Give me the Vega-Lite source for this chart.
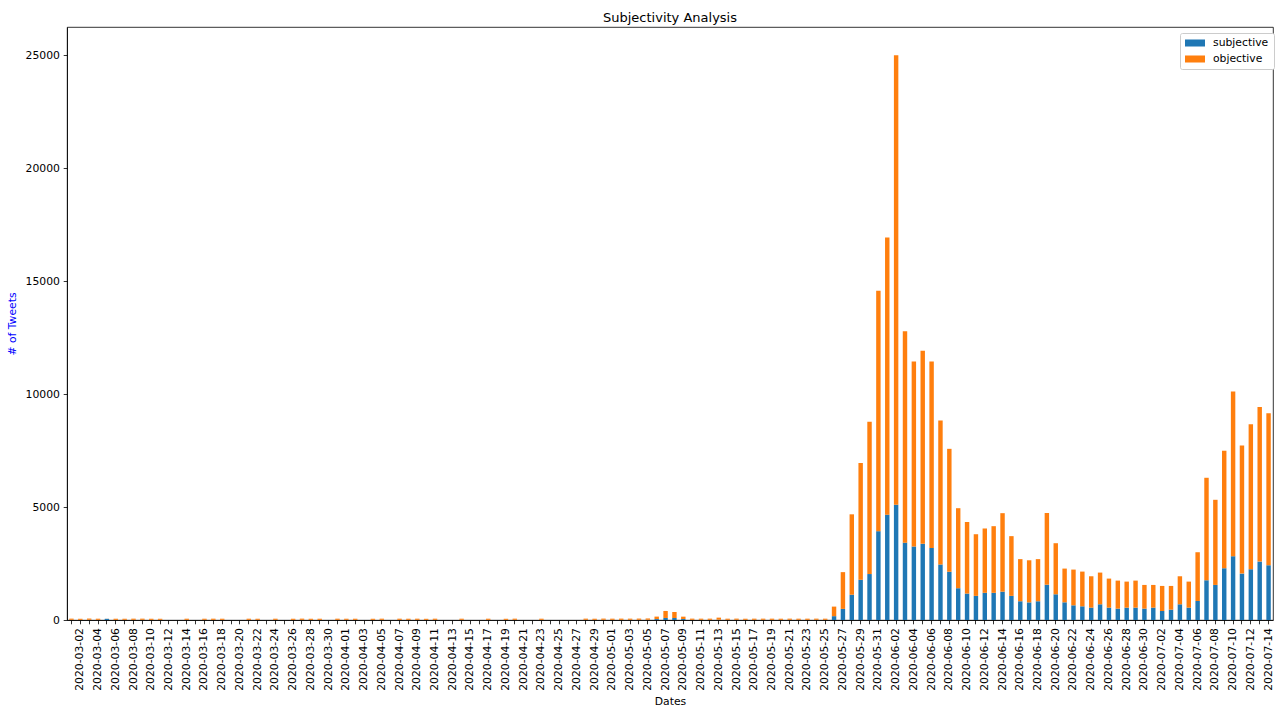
{
  "$schema": "https://vega.github.io/schema/vega-lite/v6.json",
  "width": 1206,
  "height": 593,
  "autosize": {"type": "none"},
  "padding": {"left": 67, "top": 27, "right": 7, "bottom": 87},
  "background": "white",
  "title": {"text": "Subjectivity Analysis", "fontSize": 13, "fontWeight": "normal", "font": "DejaVu Sans", "color": "black", "offset": 2},
  "data": {"values": [
    {"date": "2020-03-01", "subjective": 8, "objective": 52},
    {"date": "2020-03-02", "subjective": 6, "objective": 48},
    {"date": "2020-03-03", "subjective": 9, "objective": 55},
    {"date": "2020-03-04", "subjective": 7, "objective": 50},
    {"date": "2020-03-05", "subjective": 52, "objective": 4},
    {"date": "2020-03-06", "subjective": 6, "objective": 50},
    {"date": "2020-03-07", "subjective": 8, "objective": 47},
    {"date": "2020-03-08", "subjective": 7, "objective": 52},
    {"date": "2020-03-09", "subjective": 9, "objective": 50},
    {"date": "2020-03-10", "subjective": 6, "objective": 49},
    {"date": "2020-03-11", "subjective": 8, "objective": 46},
    {"date": "2020-03-12", "subjective": 0, "objective": 0},
    {"date": "2020-03-13", "subjective": 0, "objective": 0},
    {"date": "2020-03-14", "subjective": 7, "objective": 50},
    {"date": "2020-03-15", "subjective": 0, "objective": 0},
    {"date": "2020-03-16", "subjective": 8, "objective": 48},
    {"date": "2020-03-17", "subjective": 6, "objective": 52},
    {"date": "2020-03-18", "subjective": 7, "objective": 49},
    {"date": "2020-03-19", "subjective": 0, "objective": 0},
    {"date": "2020-03-20", "subjective": 0, "objective": 0},
    {"date": "2020-03-21", "subjective": 6, "objective": 51},
    {"date": "2020-03-22", "subjective": 8, "objective": 47},
    {"date": "2020-03-23", "subjective": 0, "objective": 0},
    {"date": "2020-03-24", "subjective": 7, "objective": 50},
    {"date": "2020-03-25", "subjective": 0, "objective": 0},
    {"date": "2020-03-26", "subjective": 6, "objective": 49},
    {"date": "2020-03-27", "subjective": 8, "objective": 52},
    {"date": "2020-03-28", "subjective": 7, "objective": 48},
    {"date": "2020-03-29", "subjective": 6, "objective": 50},
    {"date": "2020-03-30", "subjective": 0, "objective": 0},
    {"date": "2020-03-31", "subjective": 7, "objective": 51},
    {"date": "2020-04-01", "subjective": 8, "objective": 48},
    {"date": "2020-04-02", "subjective": 6, "objective": 50},
    {"date": "2020-04-03", "subjective": 0, "objective": 0},
    {"date": "2020-04-04", "subjective": 7, "objective": 47},
    {"date": "2020-04-05", "subjective": 8, "objective": 50},
    {"date": "2020-04-06", "subjective": 0, "objective": 0},
    {"date": "2020-04-07", "subjective": 6, "objective": 52},
    {"date": "2020-04-08", "subjective": 7, "objective": 49},
    {"date": "2020-04-09", "subjective": 8, "objective": 50},
    {"date": "2020-04-10", "subjective": 6, "objective": 47},
    {"date": "2020-04-11", "subjective": 7, "objective": 51},
    {"date": "2020-04-12", "subjective": 0, "objective": 0},
    {"date": "2020-04-13", "subjective": 0, "objective": 0},
    {"date": "2020-04-14", "subjective": 8, "objective": 49},
    {"date": "2020-04-15", "subjective": 0, "objective": 0},
    {"date": "2020-04-16", "subjective": 0, "objective": 0},
    {"date": "2020-04-17", "subjective": 7, "objective": 50},
    {"date": "2020-04-18", "subjective": 0, "objective": 0},
    {"date": "2020-04-19", "subjective": 6, "objective": 48},
    {"date": "2020-04-20", "subjective": 8, "objective": 51},
    {"date": "2020-04-21", "subjective": 0, "objective": 0},
    {"date": "2020-04-22", "subjective": 0, "objective": 0},
    {"date": "2020-04-23", "subjective": 7, "objective": 50},
    {"date": "2020-04-24", "subjective": 0, "objective": 0},
    {"date": "2020-04-25", "subjective": 0, "objective": 0},
    {"date": "2020-04-26", "subjective": 0, "objective": 0},
    {"date": "2020-04-27", "subjective": 0, "objective": 0},
    {"date": "2020-04-28", "subjective": 8, "objective": 52},
    {"date": "2020-04-29", "subjective": 7, "objective": 49},
    {"date": "2020-04-30", "subjective": 9, "objective": 53},
    {"date": "2020-05-01", "subjective": 8, "objective": 50},
    {"date": "2020-05-02", "subjective": 7, "objective": 54},
    {"date": "2020-05-03", "subjective": 9, "objective": 51},
    {"date": "2020-05-04", "subjective": 8, "objective": 55},
    {"date": "2020-05-05", "subjective": 10, "objective": 58},
    {"date": "2020-05-06", "subjective": 42, "objective": 108},
    {"date": "2020-05-07", "subjective": 90, "objective": 310},
    {"date": "2020-05-08", "subjective": 88, "objective": 266},
    {"date": "2020-05-09", "subjective": 44, "objective": 104},
    {"date": "2020-05-10", "subjective": 8, "objective": 52},
    {"date": "2020-05-11", "subjective": 9, "objective": 50},
    {"date": "2020-05-12", "subjective": 7, "objective": 53},
    {"date": "2020-05-13", "subjective": 12, "objective": 93},
    {"date": "2020-05-14", "subjective": 8, "objective": 50},
    {"date": "2020-05-15", "subjective": 9, "objective": 52},
    {"date": "2020-05-16", "subjective": 7, "objective": 49},
    {"date": "2020-05-17", "subjective": 8, "objective": 51},
    {"date": "2020-05-18", "subjective": 9, "objective": 50},
    {"date": "2020-05-19", "subjective": 7, "objective": 52},
    {"date": "2020-05-20", "subjective": 8, "objective": 49},
    {"date": "2020-05-21", "subjective": 9, "objective": 51},
    {"date": "2020-05-22", "subjective": 8, "objective": 50},
    {"date": "2020-05-23", "subjective": 7, "objective": 52},
    {"date": "2020-05-24", "subjective": 9, "objective": 51},
    {"date": "2020-05-25", "subjective": 8, "objective": 50},
    {"date": "2020-05-26", "subjective": 170, "objective": 423},
    {"date": "2020-05-27", "subjective": 492, "objective": 1627},
    {"date": "2020-05-28", "subjective": 1119, "objective": 3559},
    {"date": "2020-05-29", "subjective": 1780, "objective": 5170},
    {"date": "2020-05-30", "subjective": 2034, "objective": 6746},
    {"date": "2020-05-31", "subjective": 3932, "objective": 10645},
    {"date": "2020-06-01", "subjective": 4661, "objective": 12272},
    {"date": "2020-06-02", "subjective": 5102, "objective": 19898},
    {"date": "2020-06-03", "subjective": 3424, "objective": 9356},
    {"date": "2020-06-04", "subjective": 3254, "objective": 8187},
    {"date": "2020-06-05", "subjective": 3373, "objective": 8543},
    {"date": "2020-06-06", "subjective": 3187, "objective": 8254},
    {"date": "2020-06-07", "subjective": 2458, "objective": 6373},
    {"date": "2020-06-08", "subjective": 2136, "objective": 5441},
    {"date": "2020-06-09", "subjective": 1407, "objective": 3542},
    {"date": "2020-06-10", "subjective": 1170, "objective": 3169},
    {"date": "2020-06-11", "subjective": 1068, "objective": 2729},
    {"date": "2020-06-12", "subjective": 1203, "objective": 2848},
    {"date": "2020-06-13", "subjective": 1203, "objective": 2950},
    {"date": "2020-06-14", "subjective": 1254, "objective": 3475},
    {"date": "2020-06-15", "subjective": 1068, "objective": 2644},
    {"date": "2020-06-16", "subjective": 830, "objective": 1865},
    {"date": "2020-06-17", "subjective": 780, "objective": 1864},
    {"date": "2020-06-18", "subjective": 830, "objective": 1865},
    {"date": "2020-06-19", "subjective": 1563, "objective": 3173},
    {"date": "2020-06-20", "subjective": 1138, "objective": 2261},
    {"date": "2020-06-21", "subjective": 783, "objective": 1493},
    {"date": "2020-06-22", "subjective": 650, "objective": 1582},
    {"date": "2020-06-23", "subjective": 606, "objective": 1537},
    {"date": "2020-06-24", "subjective": 547, "objective": 1389},
    {"date": "2020-06-25", "subjective": 695, "objective": 1404},
    {"date": "2020-06-26", "subjective": 547, "objective": 1286},
    {"date": "2020-06-27", "subjective": 503, "objective": 1241},
    {"date": "2020-06-28", "subjective": 547, "objective": 1153},
    {"date": "2020-06-29", "subjective": 547, "objective": 1197},
    {"date": "2020-06-30", "subjective": 503, "objective": 1049},
    {"date": "2020-07-01", "subjective": 547, "objective": 1005},
    {"date": "2020-07-02", "subjective": 399, "objective": 1109},
    {"date": "2020-07-03", "subjective": 458, "objective": 1050},
    {"date": "2020-07-04", "subjective": 695, "objective": 1241},
    {"date": "2020-07-05", "subjective": 547, "objective": 1153},
    {"date": "2020-07-06", "subjective": 842, "objective": 2158},
    {"date": "2020-07-07", "subjective": 1759, "objective": 4537},
    {"date": "2020-07-08", "subjective": 1552, "objective": 3769},
    {"date": "2020-07-09", "subjective": 2291, "objective": 5202},
    {"date": "2020-07-10", "subjective": 2823, "objective": 7287},
    {"date": "2020-07-11", "subjective": 2054, "objective": 5676},
    {"date": "2020-07-12", "subjective": 2247, "objective": 6414},
    {"date": "2020-07-13", "subjective": 2587, "objective": 6843},
    {"date": "2020-07-14", "subjective": 2424, "objective": 6725}
  ]},
  "transform": [{"fold": ["subjective", "objective"], "as": ["sentiment", "tweets"]}],
  "mark": {"type": "bar"},
  "encoding": {
    "x": {
      "field": "date", "type": "ordinal", "sort": null,
      "scale": {"paddingInner": 0.5, "paddingOuter": 0.25},
      "axis": {
        "title": "Dates", "titleFontSize": 10.8, "titleFontWeight": "normal", "titleColor": "black", "titlePadding": 5,
        "labelFontSize": 10.8, "labelColor": "black", "labelAngle": 270, "labelPadding": 3.8, "labelOverlap": false,
        "labelExpr": "round((toDate(datum.value) - toDate('2020-03-02')) / 86400000) % 2 == 0 ? datum.value : ''",
        "tickSize": 3.8, "tickColor": "black", "tickWidth": 0.8,
        "domainColor": "black", "domainWidth": 0.8, "grid": false
      }
    },
    "y": {
      "field": "tweets", "type": "quantitative", "stack": "zero",
      "scale": {"domain": [0, 26250], "nice": false},
      "axis": {
        "title": "# of Tweets", "titleFontSize": 10.8, "titleFontWeight": "normal", "titleColor": "blue", "titlePadding": 8,
        "values": [0, 5000, 10000, 15000, 20000, 25000], "format": "d",
        "labelFontSize": 10.8, "labelColor": "black", "labelPadding": 3.8,
        "tickSize": 3.8, "tickColor": "black", "tickWidth": 0.8,
        "domainColor": "black", "domainWidth": 0.8, "grid": false
      }
    },
    "color": {
      "field": "sentiment", "type": "nominal",
      "scale": {"domain": ["subjective", "objective"], "range": ["#1f77b4", "#ff7f0e"]},
      "legend": {
        "title": null, "orient": "none", "legendX": 1113, "legendY": 6,
        "symbolType": "M-1,-0.35H1V0.35H-1Z", "symbolSize": 400, "symbolStrokeWidth": 0,
        "labelFontSize": 10.8, "labelColor": "black", "labelOffset": 8,
        "fillColor": "white", "strokeColor": "#cccccc", "cornerRadius": 2, "padding": 5,
        "rowPadding": 5, "clipHeight": 10
      }
    },
    "order": {"field": "sentiment", "sort": "descending"}
  },
  "config": {
    "font": "DejaVu Sans",
    "view": {"stroke": "black", "strokeWidth": 0.8}
  }
}
